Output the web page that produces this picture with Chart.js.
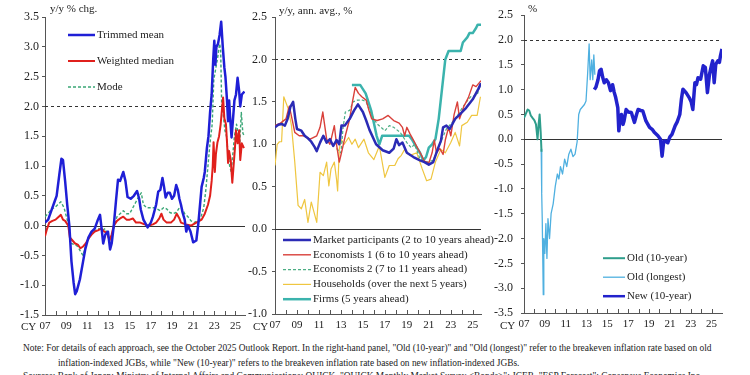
<!DOCTYPE html>
<html>
<head>
<meta charset="utf-8">
<script src="https://cdn.jsdelivr.net/npm/chart.js@4.4.1/dist/chart.umd.min.js"></script>
<style>
  body { margin: 0; background: #fff; width: 750px; height: 375px; overflow: hidden; position: relative;
         font-family: "Liberation Serif", "Times New Roman", serif; color: #222; }
  .panel { position: absolute; top: 0; }
  .ttl { position: absolute; font-size: 11px; white-space: nowrap; }
  .note { position: absolute; font-size: 9.4px; white-space: nowrap; }
</style>
</head>
<body>
<div class="panel" style="left:0px"><canvas id="c1" width="250" height="340"></canvas></div>
<div class="panel" style="left:240px"><canvas id="c2" width="260" height="340"></canvas></div>
<div class="panel" style="left:490px"><canvas id="c3" width="260" height="340"></canvas></div>

<div class="ttl" style="left:50px;top:2px">y/y % chg.</div>
<div class="ttl" style="left:279px;top:4px">y/y, ann. avg., %</div>
<div class="ttl" style="left:528px;top:2px">%</div>
<div class="ttl" style="left:21px;top:320px">CY</div>
<div class="ttl" style="left:253px;top:320px">CY</div>
<div class="ttl" style="left:500px;top:319px">CY</div>

<div class="note" style="left:23px;top:343px">Note: For details of each approach, see the October 2025 Outlook Report. In the right-hand panel, "Old (10-year)" and "Old (longest)" refer to the breakeven inflation rate based on old</div>
<div class="note" style="left:58px;top:358px">inflation-indexed JGBs, while "New (10-year)" refers to the breakeven inflation rate based on new inflation-indexed JGBs.</div>
<div class="note" style="left:23px;top:371px">Sources: Bank of Japan; Ministry of Internal Affairs and Communications; QUICK, "QUICK Monthly Market Survey &lt;Bonds&gt;"; JCER, "ESP Forecast"; Consensus Economics Inc.</div>

<script>
// x axis: calendar years
const years = [2007, 2008, 2009, 2010, 2011, 2012, 2013, 2014, 2015, 2016, 2017, 2018, 2019, 2020, 2021, 2022, 2023, 2024, 2025];
const yearLabels = ['07', '', '09', '', '11', '', '13', '', '15', '', '17', '', '19', '', '21', '', '23', '', '25'];

// left panel: [year, y/y % chg.]
const trimmedMean = [[2007.0,0.05],[2007.3,0.1],[2007.6,0.25],[2007.9,0.4],[2008.1,0.5],[2008.35,0.85],[2008.55,1.12],[2008.7,1.1],[2008.9,0.75],[2009.1,0.35],[2009.3,0.0],[2009.5,-0.6],[2009.7,-0.95],[2009.85,-1.15],[2010.0,-1.1],[2010.3,-0.9],[2010.6,-0.6],[2010.8,-0.4],[2011.1,-0.2],[2011.4,-0.1],[2011.7,-0.05],[2012.0,0.1],[2012.2,0.18],[2012.35,-0.05],[2012.5,-0.3],[2012.7,-0.15],[2012.95,-0.1],[2013.15,-0.4],[2013.3,-0.3],[2013.5,0.0],[2013.7,0.4],[2013.9,0.77],[2014.1,0.75],[2014.4,0.9],[2014.6,0.75],[2014.8,0.48],[2015.1,0.45],[2015.4,0.5],[2015.7,0.58],[2015.9,0.45],[2016.05,0.27],[2016.3,0.1],[2016.7,-0.03],[2017.0,0.05],[2017.2,0.15],[2017.5,0.35],[2017.7,0.57],[2017.9,0.6],[2018.1,0.8],[2018.25,0.65],[2018.4,0.47],[2018.6,0.55],[2018.8,0.55],[2019.0,0.45],[2019.2,0.5],[2019.4,0.68],[2019.55,0.6],[2019.7,0.45],[2019.85,0.35],[2020.0,0.22],[2020.2,0.1],[2020.35,-0.1],[2020.5,0.0],[2020.75,-0.1],[2021.0,-0.28],[2021.3,-0.25],[2021.5,0.05],[2021.8,0.65],[2022.0,0.8],[2022.1,0.9],[2022.3,1.3],[2022.45,1.5],[2022.6,1.9],[2022.75,2.2],[2022.9,2.8],[2023.0,3.1],[2023.1,2.7],[2023.2,3.0],[2023.35,3.05],[2023.5,3.2],[2023.65,3.42],[2023.8,3.0],[2023.95,2.65],[2024.05,2.5],[2024.2,2.1],[2024.3,1.75],[2024.4,2.1],[2024.5,1.8],[2024.63,1.48],[2024.75,1.75],[2024.9,2.1],[2025.05,2.2],[2025.2,2.48],[2025.35,2.25],[2025.45,2.0],[2025.6,2.2],[2025.85,2.25]];
const weightedMedian = [[2007.0,-0.18],[2007.2,-0.05],[2007.4,0.05],[2007.7,0.08],[2008.0,0.1],[2008.3,0.15],[2008.5,0.18],[2008.7,0.1],[2008.9,0.08],[2009.2,0.0],[2009.35,-0.2],[2009.6,-0.25],[2009.85,-0.3],[2010.1,-0.32],[2010.35,-0.38],[2010.6,-0.35],[2010.85,-0.3],[2011.1,-0.22],[2011.4,-0.15],[2011.7,-0.1],[2012.0,-0.08],[2012.3,-0.05],[2012.6,-0.1],[2012.85,-0.12],[2013.1,-0.25],[2013.3,-0.15],[2013.5,0.0],[2013.8,0.08],[2014.1,0.12],[2014.4,0.15],[2014.7,0.1],[2015.0,0.1],[2015.3,0.12],[2015.6,0.05],[2016.0,0.05],[2016.4,0.02],[2016.8,0.0],[2017.2,0.02],[2017.5,0.05],[2017.8,0.12],[2018.0,0.2],[2018.2,0.1],[2018.5,0.05],[2018.9,0.05],[2019.2,0.1],[2019.45,0.2],[2019.7,0.12],[2019.85,0.05],[2020.3,0.02],[2020.8,0.0],[2021.3,0.05],[2021.8,0.1],[2022.1,0.2],[2022.4,0.35],[2022.6,0.5],[2022.75,0.75],[2022.85,1.0],[2022.93,1.4],[2023.05,0.9],[2023.15,1.2],[2023.3,1.4],[2023.45,1.5],[2023.6,1.7],[2023.75,2.0],[2023.83,2.15],[2023.95,1.8],[2024.1,1.7],[2024.2,1.4],[2024.3,1.05],[2024.4,1.25],[2024.55,1.1],[2024.7,0.72],[2024.8,0.95],[2024.95,1.3],[2025.05,1.6],[2025.2,1.38],[2025.35,1.6],[2025.45,1.1],[2025.6,1.38],[2025.8,1.3]];
const modeSeries = [[2007.0,0.15],[2007.3,0.2],[2007.6,0.28],[2007.9,0.3],[2008.2,0.35],[2008.5,0.4],[2008.8,0.3],[2009.1,0.1],[2009.3,-0.05],[2009.5,-0.3],[2009.8,-0.32],[2010.1,-0.35],[2010.4,-0.45],[2010.6,-0.5],[2010.9,-0.3],[2011.2,-0.2],[2011.5,-0.1],[2011.8,-0.08],[2012.1,-0.05],[2012.4,-0.08],[2012.7,-0.05],[2013.0,-0.2],[2013.3,-0.2],[2013.5,-0.05],[2013.8,0.15],[2014.1,0.2],[2014.4,0.25],[2014.7,0.2],[2015.0,0.2],[2015.3,0.3],[2015.6,0.4],[2015.9,0.5],[2016.1,0.55],[2016.3,0.35],[2016.6,0.3],[2017.0,0.3],[2017.3,0.3],[2017.6,0.28],[2017.9,0.25],[2018.2,0.3],[2018.5,0.28],[2018.8,0.22],[2019.1,0.2],[2019.4,0.22],[2019.7,0.3],[2019.9,0.3],[2020.2,0.2],[2020.5,0.15],[2020.8,0.08],[2021.1,0.05],[2021.4,0.08],[2021.7,0.12],[2022.0,0.3],[2022.2,0.6],[2022.4,1.0],[2022.6,1.4],[2022.8,1.7],[2022.95,2.45],[2023.1,2.6],[2023.3,2.8],[2023.5,3.05],[2023.6,2.95],[2023.7,2.0],[2023.85,1.85],[2024.0,1.6],[2024.15,1.5],[2024.3,1.2],[2024.45,1.0],[2024.6,0.9],[2024.75,1.2],[2024.9,1.5],[2025.1,1.7],[2025.25,1.55],[2025.4,1.35],[2025.55,1.9],[2025.7,1.55],[2025.85,1.5]];

// middle panel: [year, y/y annual average %]
const marketParticipants = [[2007.0,1.2],[2007.3,1.23],[2007.6,1.24],[2007.9,1.22],[2008.15,1.3],[2008.4,1.44],[2008.65,1.5],[2008.85,1.3],[2009.0,1.18],[2009.4,1.16],[2009.7,1.1],[2010.0,1.07],[2010.3,1.03],[2010.6,0.97],[2010.8,0.92],[2011.1,1.02],[2011.4,1.1],[2011.7,1.02],[2012.0,1.06],[2012.3,0.98],[2012.6,1.05],[2012.85,1.0],[2013.05,1.22],[2013.35,1.22],[2013.8,1.3],[2014.2,1.4],[2014.55,1.47],[2015.0,1.38],[2015.3,1.28],[2015.6,1.17],[2016.2,1.0],[2016.8,0.93],[2017.4,0.9],[2017.8,0.95],[2018.05,1.06],[2018.3,0.99],[2018.6,1.02],[2019.0,0.9],[2019.6,0.85],[2020.2,0.81],[2020.6,0.79],[2021.0,0.76],[2021.4,0.79],[2021.8,0.94],[2022.1,1.04],[2022.3,1.2],[2022.6,1.22],[2022.9,1.18],[2023.4,1.3],[2023.8,1.35],[2024.4,1.43],[2025.0,1.53],[2025.5,1.65],[2025.75,1.72]];
const economists1 = [[2007.0,1.22],[2007.5,1.25],[2008.0,1.3],[2008.3,1.45],[2008.55,1.3],[2008.8,1.14],[2009.2,1.1],[2009.6,1.1],[2010.2,1.06],[2010.8,1.1],[2011.1,1.2],[2011.35,1.38],[2011.7,1.06],[2012.0,1.0],[2012.4,1.22],[2012.6,1.0],[2012.85,0.79],[2013.05,0.9],[2013.4,1.1],[2013.8,1.3],[2014.05,1.5],[2014.3,1.67],[2014.6,1.6],[2014.9,1.56],[2015.3,1.52],[2015.55,1.4],[2015.8,1.3],[2016.3,1.28],[2016.8,1.3],[2017.3,1.34],[2017.8,1.28],[2018.3,1.25],[2018.6,1.2],[2018.8,1.1],[2019.0,1.2],[2019.3,1.12],[2019.6,1.05],[2020.0,0.95],[2020.3,0.88],[2020.6,0.8],[2021.0,0.78],[2021.3,0.9],[2021.5,1.05],[2021.7,0.9],[2022.0,0.95],[2022.3,0.88],[2022.5,1.05],[2022.8,1.2],[2023.0,1.1],[2023.3,1.35],[2023.6,1.5],[2023.8,1.3],[2024.2,1.45],[2024.6,1.55],[2025.0,1.7],[2025.3,1.68],[2025.75,1.75]];
const economists2 = [[2012.6,0.95],[2013.0,0.9],[2013.2,1.2],[2013.4,1.38],[2013.8,1.4],[2014.1,1.5],[2014.5,1.52],[2015.0,1.52],[2015.3,1.5],[2015.6,1.4],[2016.0,1.3],[2016.3,1.24],[2017.0,1.16],[2017.4,1.22],[2017.8,1.2],[2018.4,1.14],[2019.0,1.02],[2019.4,0.96],[2019.7,1.0],[2020.2,0.83],[2020.8,0.79],[2021.4,0.81],[2021.8,0.94],[2022.6,1.18],[2023.4,1.3],[2024.2,1.46],[2024.8,1.56],[2025.4,1.58],[2025.75,1.72]];
const households = [[2007.0,0.75],[2007.2,1.0],[2007.4,1.03],[2007.6,1.03],[2007.8,1.56],[2008.2,1.42],[2008.5,1.22],[2008.8,0.79],[2009.1,0.28],[2009.4,0.24],[2009.7,0.35],[2010.0,0.08],[2010.3,0.32],[2010.55,0.2],[2010.8,0.08],[2011.1,0.67],[2011.4,0.63],[2011.7,0.79],[2011.9,0.51],[2012.1,0.71],[2012.4,0.79],[2012.6,0.59],[2012.7,0.45],[2012.85,0.94],[2013.0,1.06],[2013.3,1.0],[2013.7,1.08],[2014.0,1.0],[2014.3,1.06],[2014.6,0.96],[2015.1,1.06],[2015.5,0.9],[2016.0,0.82],[2016.5,0.98],[2017.0,0.61],[2017.4,0.75],[2017.9,0.75],[2018.2,0.83],[2018.5,0.87],[2018.8,0.94],[2019.3,0.87],[2019.9,0.9],[2020.4,0.71],[2020.8,0.57],[2021.2,0.59],[2021.6,0.79],[2022.1,0.94],[2022.5,0.9],[2023.0,1.02],[2023.4,1.14],[2023.8,0.98],[2024.0,1.22],[2024.5,1.26],[2024.9,1.34],[2025.4,1.34],[2025.7,1.56]];
const firms = [[2014.0,1.7],[2014.25,1.7],[2014.5,1.7],[2014.75,1.7],[2015.0,1.65],[2015.25,1.6],[2015.5,1.5],[2015.75,1.4],[2016.0,1.25],[2016.25,1.1],[2016.5,1.0],[2016.75,1.1],[2017.0,1.1],[2017.5,1.1],[2018.0,1.1],[2018.5,1.1],[2018.9,1.1],[2019.2,1.1],[2019.5,1.05],[2019.9,0.96],[2020.2,0.9],[2020.5,0.81],[2020.75,0.85],[2021.0,0.96],[2021.3,1.0],[2021.6,1.06],[2021.9,1.3],[2022.2,1.65],[2022.5,2.0],[2022.8,2.1],[2023.0,2.1],[2023.5,2.1],[2023.9,2.1],[2024.1,2.2],[2024.5,2.26],[2024.7,2.31],[2025.0,2.31],[2025.3,2.37],[2025.45,2.41],[2025.75,2.41]];

// right panel: [year, %]
const old10y = [[2007.0,0.43],[2007.15,0.5],[2007.35,0.6],[2007.5,0.58],[2007.65,0.48],[2007.85,0.42],[2008.0,0.38],[2008.15,0.3],[2008.3,0.0],[2008.4,0.3],[2008.5,0.5],[2008.6,0.15],[2008.68,-0.25]];
const oldLongest = [[2008.65,-0.2],[2008.7,-1.1],[2008.75,-1.6],[2008.85,-3.13],[2008.9,-2.0],[2009.0,-2.3],[2009.1,-1.7],[2009.2,-2.4],[2009.3,-1.6],[2009.45,-2.0],[2009.6,-1.5],[2009.8,-1.3],[2010.0,-0.95],[2010.2,-0.7],[2010.35,-0.8],[2010.5,-0.55],[2010.7,-0.7],[2010.9,-0.4],[2011.1,-0.55],[2011.3,-0.3],[2011.5,-0.2],[2011.7,-0.35],[2011.9,-0.3],[2012.1,-0.05],[2012.25,0.5],[2012.4,0.6],[2012.6,0.65],[2012.8,0.7],[2012.95,0.77],[2013.1,1.3],[2013.25,1.92],[2013.35,1.2],[2013.5,1.6],[2013.6,1.2],[2013.7,1.7],[2013.8,1.3]];
const new10y = [[2013.75,1.0],[2013.9,1.05],[2014.1,1.2],[2014.25,1.38],[2014.4,1.41],[2014.55,1.25],[2014.7,1.14],[2014.9,1.2],[2015.1,1.14],[2015.3,0.98],[2015.5,1.1],[2015.65,0.95],[2015.8,0.84],[2016.0,0.64],[2016.1,0.17],[2016.2,0.4],[2016.35,0.5],[2016.5,0.3],[2016.6,0.37],[2016.8,0.6],[2017.0,0.55],[2017.3,0.54],[2017.6,0.34],[2017.8,0.5],[2017.95,0.6],[2018.2,0.58],[2018.4,0.57],[2018.7,0.37],[2019.05,0.24],[2019.3,0.2],[2019.5,0.14],[2019.85,0.07],[2020.1,0.0],[2020.25,-0.34],[2020.4,-0.05],[2020.5,-0.03],[2020.8,-0.07],[2021.0,0.05],[2021.2,0.1],[2021.5,0.27],[2021.7,0.35],[2021.95,0.5],[2022.1,0.8],[2022.25,1.01],[2022.55,0.94],[2022.85,0.84],[2023.05,0.75],[2023.2,0.6],[2023.4,1.14],[2023.55,1.1],[2023.7,1.24],[2023.95,1.21],[2024.2,1.48],[2024.4,1.45],[2024.5,1.2],[2024.6,0.94],[2024.8,1.31],[2025.0,1.5],[2025.1,1.58],[2025.25,1.14],[2025.4,1.51],[2025.6,1.58],[2025.75,1.55],[2025.85,1.68],[2026.0,1.82]];

const serif = '"Liberation Serif", "Times New Roman", serif';
const toXY = arr => arr.map(p => ({ x: p[0], y: p[1] }));

// 2% dashed line, zero line and inward year ticks
const refLines = {
  id: 'refLines',
  beforeDatasetsDraw(chart) {
    const { ctx, chartArea: a, scales: { x, y } } = chart;
    ctx.save();
    ctx.lineWidth = 1;
    ctx.strokeStyle = '#555';
    x.ticks.forEach(t => {
      const px = Math.round(x.getPixelForValue(t.value)) + 0.5;
      ctx.beginPath(); ctx.moveTo(px, a.bottom); ctx.lineTo(px, a.bottom - 4); ctx.stroke();
    });
    let py = Math.round(y.getPixelForValue(0)) + 0.5;
    ctx.strokeStyle = '#333';
    ctx.beginPath(); ctx.moveTo(a.left, py); ctx.lineTo(a.right, py); ctx.stroke();
    py = Math.round(y.getPixelForValue(2)) + 0.5;
    ctx.setLineDash([3, 3]);
    ctx.beginPath(); ctx.moveTo(a.left, py); ctx.lineTo(a.right, py); ctx.stroke();
    ctx.restore();
  }
};

// legend drawn inside the plot area
const inlineLegend = {
  id: 'inlineLegend',
  afterDraw(chart, args, o) {
    const { ctx, chartArea: a } = chart;
    ctx.save();
    ctx.font = '11px ' + serif;
    ctx.textBaseline = 'middle';
    ctx.fillStyle = '#222';
    chart.data.datasets.forEach((ds, i) => {
      const x = a.left + o.left;
      const y = a.top + o.top + i * o.gap;
      ctx.strokeStyle = ds.borderColor;
      ctx.lineWidth = Math.min(ds.borderWidth, 2.5);
      ctx.setLineDash(ds.borderDash || []);
      ctx.beginPath(); ctx.moveTo(x, y); ctx.lineTo(x + o.len, y); ctx.stroke();
      ctx.setLineDash([]);
      ctx.fillText(ds.label, x + o.len + 2, y);
    });
    ctx.restore();
  }
};

function line(label, data, color, width, dash) {
  return { label: label, data: toXY(data), borderColor: color, borderWidth: width, borderDash: dash || [],
           pointRadius: 0, fill: false, tension: 0, borderJoinStyle: 'round' };
}

function makeChart(id, datasets, p) {
  const ctx = document.getElementById(id).getContext('2d');
  return new Chart(ctx, {
    type: 'line',
    data: { datasets: datasets },
    options: {
      responsive: false,
      animation: false,
      layout: { padding: { top: p.top, right: p.right, left: 0, bottom: 0 } },
      plugins: { legend: { display: false }, tooltip: { enabled: false }, inlineLegend: p.legend },
      scales: {
        x: {
          type: 'linear', min: 2007, max: p.xMax,
          afterBuildTicks: s => { s.ticks = years.map(v => ({ value: v })); },
          afterFit: s => { s.height = p.xH; },
          ticks: { autoSkip: false, maxRotation: 0, padding: 5, color: '#222', font: { family: serif, size: 11 },
                   callback: (v, i) => yearLabels[i] },
          grid: { display: false, drawTicks: false },
          border: { display: true, color: '#555' }
        },
        y: {
          min: p.yMin, max: p.yMax,
          afterFit: s => { s.width = p.yW; },
          ticks: { stepSize: 0.5, padding: p.yPad, color: '#222', font: { family: serif, size: 12 },
                   callback: v => v.toFixed(1) },
          grid: { drawOnChartArea: false, drawTicks: true, tickLength: 3, color: '#555' },
          border: { display: true, color: '#555' }
        }
      }
    },
    plugins: [refLines, inlineLegend]
  });
}

makeChart('c1', [
  line('Trimmed mean', trimmedMean, '#1f1fd6', 2.5),
  line('Weighted median', weightedMedian, '#e0201c', 2),
  line('Mode', modeSeries, '#3aa676', 1.4, [3, 2])
], { top: 17, right: 5, xH: 25, yW: 45, yPad: 3, yMin: -1.5, yMax: 3.5, xMax: 2025.9,
     legend: { left: 23, top: 18, gap: 26, len: 27 } });

makeChart('c2', [
  line('Market participants (2 to 10 years ahead)', marketParticipants, '#2b2bb5', 2.5),
  line('Economists 1 (6 to 10 years ahead)', economists1, '#d9403a', 1.4),
  line('Economists 2 (7 to 11 years ahead)', economists2, '#4cae84', 1.2, [3, 2]),
  line('Households (over the next 5 years)', households, '#efc640', 1.2),
  line('Firms (5 years ahead)', firms, '#3bb3ad', 2.5)
], { top: 17, right: 19, xH: 26, yW: 35, yPad: 5, yMin: -1.0, yMax: 2.5, xMax: 2025.75,
     legend: { left: 8, top: 223, gap: 14.8, len: 28 } });

makeChart('c3', [
  line('Old (10-year)', old10y, '#2f9e8c', 2),
  line('Old (longest)', oldLongest, '#4fb0e0', 1.3),
  line('New (10-year)', new10y, '#2222cc', 3.5)
], { top: 14, right: 28, xH: 27, yW: 34, yPad: 8, yMin: -3.5, yMax: 2.5, xMax: 2026.0,
     legend: { left: 79, top: 243, gap: 19, len: 22 } });
</script>
</body>
</html>
